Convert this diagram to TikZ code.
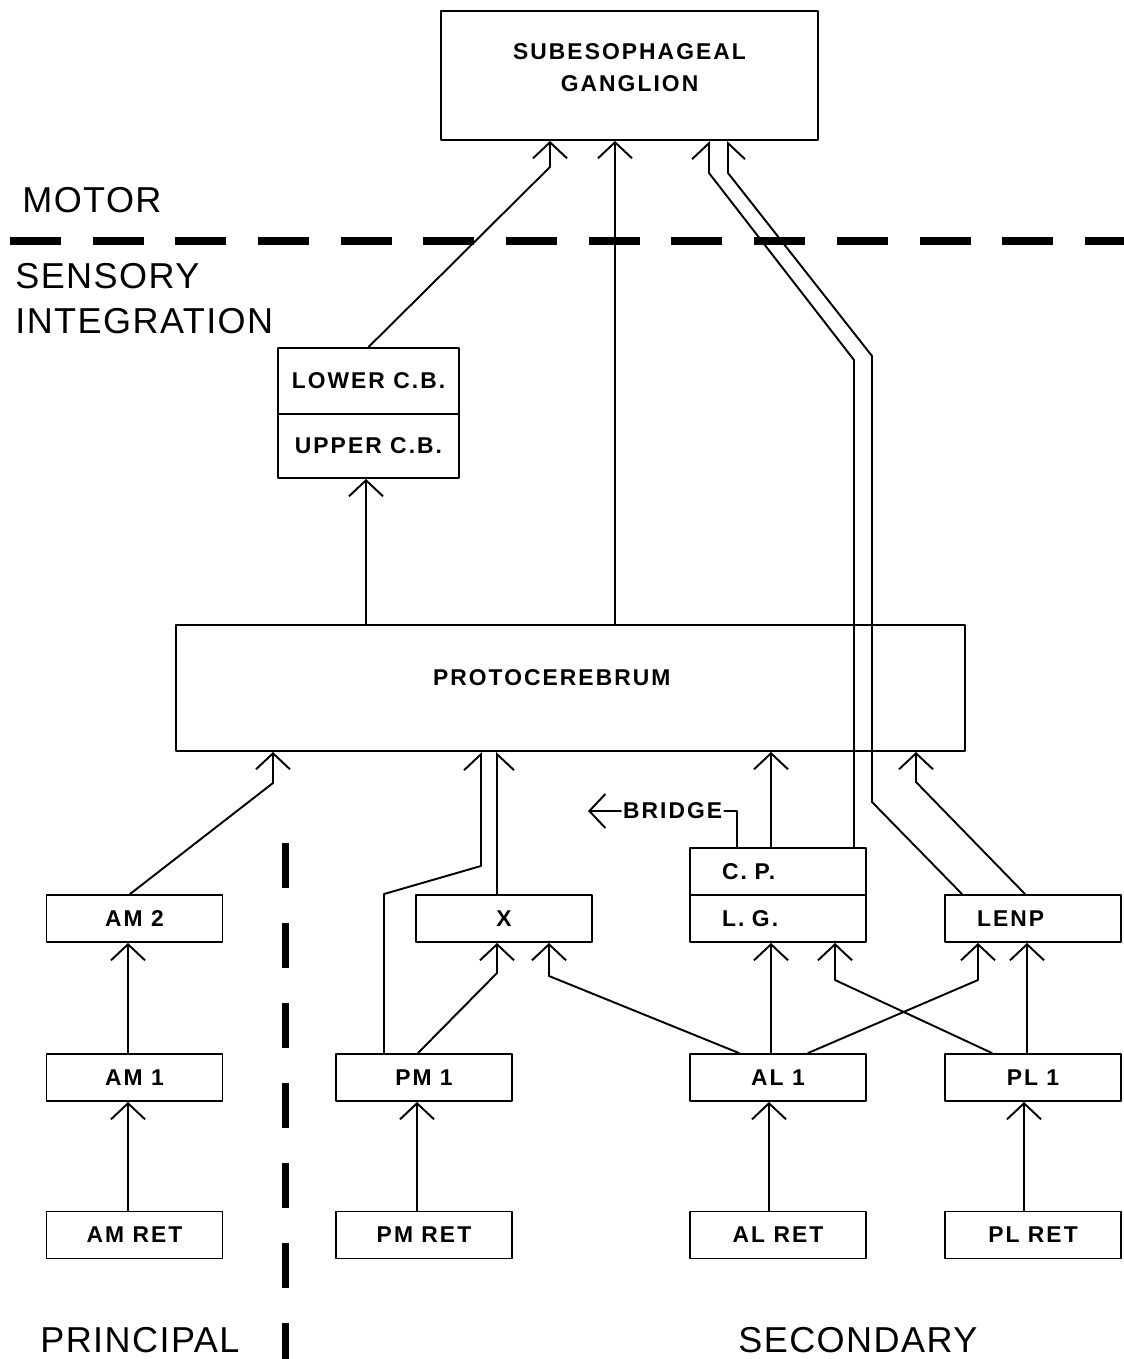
\documentclass[tikz,border=0pt]{standalone}
\usepackage{fontspec}
\setmainfont{Liberation Sans}
\newfontfamily\plotfont{Liberation Sans}[LetterSpace=9]
\newfontfamily\zonefont{Liberation Sans}[LetterSpace=4]
\usetikzlibrary{arrows.meta,positioning}
\tikzset{
  blk/.style={draw, line width=1.1pt, inner sep=0pt, minimum width=3.52cm, minimum height=0.94cm,
    font=\plotfont\bfseries\fontsize{13}{18}\selectfont},
  lblk/.style={blk, inner xsep=0.64cm, text width=2.24cm, align=left},
  wire/.style={line width=1.1pt, ->},
  halfL/.style={line width=1.1pt, -{Straight Barb[length=0.32cm, width=0.68cm, left]}},
  halfR/.style={line width=1.1pt, -{Straight Barb[length=0.32cm, width=0.68cm, right]}},
  zone/.style={font=\zonefont\fontsize{20.5}{25.6}\selectfont, inner sep=0pt},
  sep/.style={line width=#1, line cap=butt},
  >={Straight Barb[length=0.32cm, width=0.68cm]},
  every picture/.style={line cap=round, line join=round}
}

\begin{document}
\begin{tikzpicture}[x=0.02cm, y=-0.02cm]
  \useasboundingbox (0,0) rectangle (1124,1359);

  \node[blk, minimum width=7.54cm, minimum height=2.58cm, align=center, text depth=0.33cm] (sub) at (629.5,75.5) {SUBESOPHAGEAL\\GANGLION};
  \node[blk, minimum width=3.62cm, minimum height=1.32cm] (lcb) at (368.5,381) {LOWER C.B.};
  \node[blk, minimum width=3.62cm, minimum height=1.28cm, below=-1.1pt of lcb] (ucb) {UPPER C.B.};
  \node[blk, minimum width=15.78cm, minimum height=2.52cm, inner xsep=5.14cm, text width=5.5cm, align=left, text depth=0.4cm] (proto) at (570.5,688) {PROTOCEREBRUM};

  \node[blk] (am2) at (134.5,918.5) {AM 2};
  \node[blk] (am1) at (134.5,1077.5) {AM 1};
  \node[blk] (amret) at (134.5,1235) {AM RET};
  \node[blk] (x) at (504,918.5) {X};
  \node[blk] (pm1) at (424,1077.5) {PM 1};
  \node[blk] (pmret) at (424,1235) {PM RET};
  \node[lblk] (cp) at (778,871.5) {C. P.};
  \node[lblk, below=-1.1pt of cp] (lg) {L. G.};
  \node[lblk] (lenp) at (1033,918.5) {LENP};
  \node[blk] (al1) at (778,1077.5) {AL 1};
  \node[blk] (alret) at (778,1235) {AL RET};
  \node[blk] (pl1) at (1033,1077.5) {PL 1};
  \node[blk] (plret) at (1033,1235) {PL RET};

  \node[font=\plotfont\bfseries\fontsize{13}{18}\selectfont, inner sep=1pt, anchor=west] (bridge) at (621,811) {BRIDGE};

  \node[zone, anchor=base west] (motor) at (22,212) {MOTOR};
  \node[zone, anchor=base west, align=left] (sensory) at (15,333) {SENSORY\\INTEGRATION};
  \node[zone, anchor=base west] (principal) at (40,1352) {PRINCIPAL};
  \node[zone, anchor=base west] (secondary) at (738,1352) {SECONDARY};

  \draw[sep=0.16cm, dash pattern=on 1.02cm off 0.634cm] (10,241) -- (1124,241);
  \draw[sep=0.14cm, dash pattern=on 0.9cm off 0.7cm] (285,843) -- (285,1359);

  \coordinate (kA) at (550,167);
  \coordinate (kB) at (615,400);
  \coordinate (kC1) at (854,360);
  \coordinate (kC2) at (709,173);
  \coordinate (kD1) at (872,802);
  \coordinate (kD2) at (872,356);
  \coordinate (kD3) at (728,173);
  \coordinate (kE) at (273,783);
  \coordinate (kF1) at (384,894);
  \coordinate (kF2) at (481,866);
  \coordinate (kG) at (497,973);
  \coordinate (kH) at (771,800);
  \coordinate (kI) at (916,782);
  \coordinate (kK) at (549,976);
  \coordinate (kL) at (978,980);
  \coordinate (kM) at (835,980);
  \coordinate (kN) at (737,812);
  \coordinate (kU) at (366,550);

  \draw[wire] (lcb.north) -- (kA) -- (kA |- sub.south);
  \draw[wire] (kB |- proto.north) -- (kB |- sub.south);
  \draw[halfL] (kC1 |- cp.north) -- (kC1) -- (kC2) -- (kC2 |- sub.south);
  \draw[halfR] ([xshift=-1.42cm]lenp.north) -- (kD1) -- (kD2) -- (kD3) -- (kD3 |- sub.south);
  \draw[wire] (kU |- proto.north) -- (kU |- ucb.south);
  \draw[wire] ([xshift=-0.09cm]am2.north) -- (kE) -- (kE |- proto.south);
  \draw[halfL] (kF1 |- pm1.north) -- (kF1) -- (kF2) -- (kF2 |- proto.south);
  \draw[halfR] (kG |- x.north) -- (kG |- proto.south);
  \draw[wire] (kH |- cp.north) -- (kH |- proto.south);
  \draw[wire] ([xshift=-0.16cm]lenp.north) -- (kI) -- (kI |- proto.south);
  \draw[wire] ([xshift=-0.12cm]pm1.north) -- (kG) -- (kG |- x.south);
  \draw[wire] ([xshift=-0.78cm]al1.north) -- (kK) -- (kK |- x.south);
  \draw[wire] (kH |- al1.north) -- (kH |- lg.south);
  \draw[wire] ([xshift=0.6cm]al1.north) -- (kL) -- (kL |- lenp.south);
  \draw[wire] ([xshift=-0.82cm]pl1.north) -- (kM) -- (kM |- lg.south);
  \draw[wire] ([xshift=-0.12cm]pl1.north) -- ([xshift=-0.12cm]lenp.south);
  \draw[wire] ([xshift=-0.13cm]amret.north) -- ([xshift=-0.13cm]am1.south);
  \draw[wire] ([xshift=-0.13cm]am1.north) -- ([xshift=-0.13cm]am2.south);
  \draw[wire] ([xshift=-0.14cm]pmret.north) -- ([xshift=-0.14cm]pm1.south);
  \draw[wire] ([xshift=-0.18cm]alret.north) -- ([xshift=-0.18cm]al1.south);
  \draw[wire] ([xshift=-0.18cm]plret.north) -- ([xshift=-0.18cm]pl1.south);
  \draw[wire] (bridge.west) -- ++(-0.66cm,0);
  \draw[line width=1.1pt] (bridge.east) -| (kN |- cp.north);
\end{tikzpicture}
\end{document}
